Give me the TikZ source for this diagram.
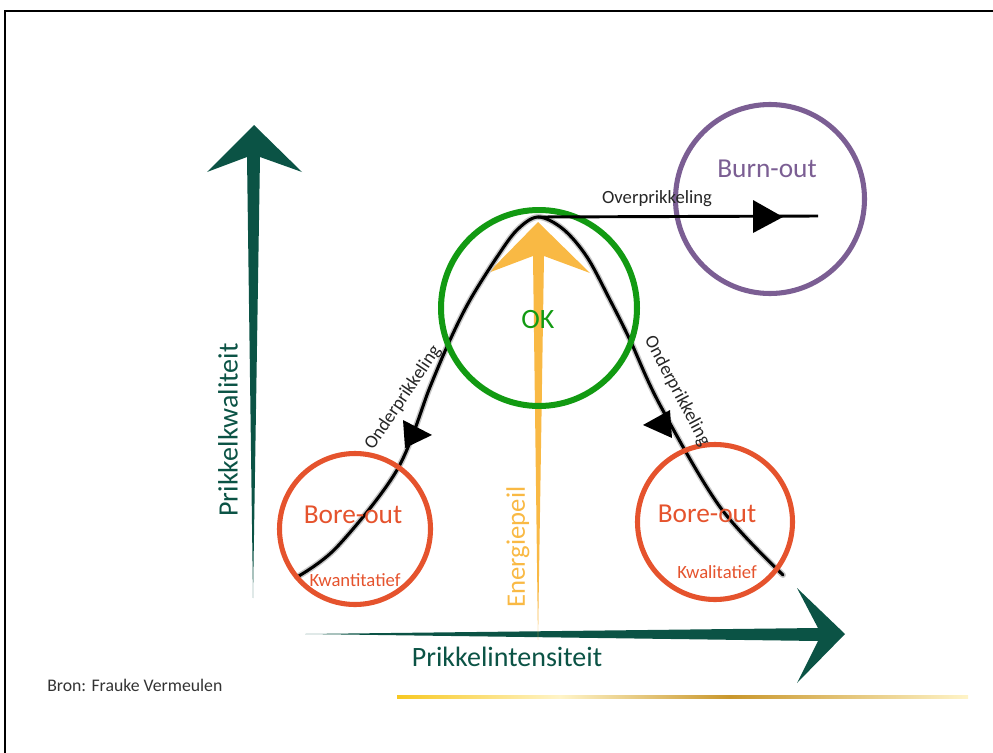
\documentclass[tikz,border=0pt]{standalone}
\usepackage{fontspec}
\setmainfont{Carlito}
\usetikzlibrary{positioning,calc}

\definecolor{axisgreen}{HTML}{0B5345}
\definecolor{energy}{HTML}{F9B944}
\definecolor{okgreen}{HTML}{129A12}
\definecolor{burnpurple}{HTML}{7B5E93}
\definecolor{boreorange}{HTML}{E5532D}
\definecolor{goldA}{HTML}{F7C821}
\definecolor{goldB}{HTML}{FFF4C8}
\definecolor{goldC}{HTML}{C9972C}

\tikzset{
  ring/.style={circle, draw, inner sep=0pt},
  lbl/.style={inner sep=0pt, font=\fontsize{#1}{#1}\selectfont},
  tri/.style={fill=black, draw=none}
}

\begin{document}
\begin{tikzpicture}[x=0.75pt,y=-0.75pt]
\useasboundingbox (0,0) rectangle (993,753);
% frame
\draw[line width=2.2pt] (993,11) -- (5,11) -- (5,753);

% axes
\fill[axisgreen] (253,598) -- (247,157) -- (207,172) -- (254,125) -- (302,172) -- (260,157) -- cycle;
\fill[axisgreen] (305,634) -- (818,628) -- (797,588) -- (845,634) -- (797,683) -- (818,641) -- cycle;
\node[lbl=21, text=axisgreen, rotate=90] (kwal) at (228,430) {Prikkelkwaliteit};
\node[lbl=21, text=axisgreen] (int) at (507,657) {Prikkelintensiteit};

% energiepeil
\fill[energy] (538,640) -- (533,256) -- (488,273) -- (538,222) -- (590,273) -- (544,256) -- cycle;
\node[lbl=20, text=energy, rotate=90] (energie) at (518,547) {Energiepeil};

% curve
\coordinate (top) at (538,217);
\draw[black!22, line width=4.5pt, line cap=round] plot[smooth, tension=0.55] coordinates {(297,577) (337,547) (397,470) (430,387) (450,340) (470,300) (497,257) (517,230) (top) (563,229) (587,257) (610,300) (630,340) (660,405) (720,507) (783,575)};
\draw[black, line width=2.3pt, line cap=round] plot[smooth, tension=0.55] coordinates {(297,577) (337,547) (397,470) (430,387) (450,340) (470,300) (497,257) (517,230) (top) (563,229) (587,257) (610,300) (630,340) (660,405) (720,507) (783,575)};

% circles
\node[ring, draw=okgreen, line width=4.5pt, minimum size=147pt] (ok) at (539,308) {};
\node[ring, draw=burnpurple, line width=3.8pt, minimum size=141.75pt] (burn) at (770,199) {};
\node[ring, draw=boreorange, line width=3.8pt, minimum size=113.25pt] (boreL) at (355,529) {};
\node[ring, draw=boreorange, line width=3.8pt, minimum size=116.25pt] (boreR) at (715,522) {};

\node[lbl=21, text=okgreen] (oktxt) at (538,320) {OK};
\node[lbl=20.5, text=burnpurple] (burntxt) at (767,169) {Burn-out};
\node[lbl=20.5, text=boreorange] (boreLtxt) at (353,515) {Bore-out};
\node[lbl=20.5, text=boreorange] (boreRtxt) at (707,514) {Bore-out};
\node[lbl=14, text=boreorange] (kwant) at (355,580) {Kwantitatief};
\node[lbl=14, text=boreorange] (kwalit) at (717,572) {Kwalitatief};

% overprikkeling
\coordinate (over) at (818,216);
\draw[line width=2.2pt] (top) -- (over);
\fill (753,200) -- (783,217) -- (753,233) -- cycle;
\node[lbl=14, text=black!85] (overtxt) at (657,199) {Overprikkeling};

% onderprikkeling
\fill (403,420) -- (432,435) -- (405,448) -- cycle;
\fill (643,425) -- (670,410) -- (672,438) -- cycle;
\node[lbl=14, text=black!85, rotate=56] (onderL) at (403,398) {Onderprikkeling};
\node[lbl=14, text=black!85, rotate=-62] (onderR) at (677,391) {Onderprikkeling};

% bron + line
\node[lbl=13.3, text=black!80, anchor=west] (bron) at (47,685) {Bron: Frauke Vermeulen};
\shade[left color=goldA, right color=goldB] (397,695.5) rectangle (560,698.5);
\shade[left color=goldB, right color=goldC] (560,695.5) rectangle (730,698.5);
\shade[left color=goldC, right color=goldB] (730,695.5) rectangle (968,698.5);
\end{tikzpicture}
\end{document}
